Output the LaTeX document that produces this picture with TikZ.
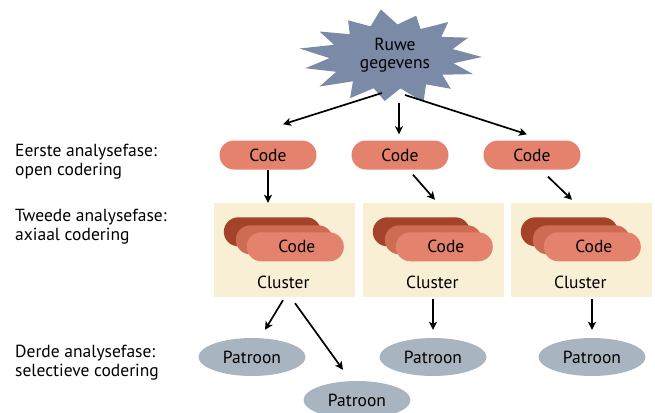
\documentclass[tikz,border=0pt]{standalone}
\usepackage{fontspec}
\setmainfont{PT Sans}
\usetikzlibrary{arrows.meta,calc,shapes.geometric}
\definecolor{burstcol}{HTML}{7B8AA6}
\definecolor{codecol}{HTML}{E4826D}
\definecolor{midcol}{HTML}{CE6C53}
\definecolor{backcol}{HTML}{A4432A}
\definecolor{boxcol}{HTML}{F8EFD5}
\definecolor{patcol}{HTML}{A9B4C1}
\tikzset{
  txt/.style={font=\fontsize{17.5}{19}\selectfont},
  pill/.style={rectangle,rounded corners=14.5pt,minimum width=97pt,minimum height=29pt,inner sep=0pt,txt},
  codepill/.style={pill,fill=codecol},
  midpill/.style={pill,fill=midcol},
  backpill/.style={pill,fill=backcol},
  clbox/.style={rectangle,fill=boxcol,minimum width=141pt,minimum height=94pt,inner sep=0pt},
  lbl/.style={txt},
  phase/.style={align=left,anchor=west,inner sep=0pt,txt},
  pat/.style={ellipse,fill=patcol,minimum width=107pt,minimum height=38pt,inner sep=0pt,txt},
  arr/.style={line width=1.7pt,-{Stealth[length=8pt,width=8pt,inset=2pt]}}
}
\begin{document}
\begin{tikzpicture}[x=1pt,y=-1pt]
\useasboundingbox (0,0) rectangle (655,412);
% starburst
\coordinate (bc) at (392,57);
\fill[burstcol] ($(bc)+(90,0)$)
  \foreach \a/\f in {11/0.68,22/0.95,34/0.66,46/0.92,57/0.68,70/1.0,82/0.66,95/0.92,107/0.68,118/0.97,130/0.66,142/1.0,153/0.68,166/0.97,178/0.68,190/1.02,202/0.68,214/0.95,226/0.66,238/0.9,250/0.68,263/1.0,275/0.68,287/0.9,298/0.66,310/0.95,322/0.68,334/0.92,346/0.68}
  { -- ($(bc)+({\f*92*cos(\a)},{\f*48*sin(\a)})$) } -- cycle;
\node[lbl,align=center,inner sep=0pt,font=\fontsize{17.5}{17.5}\selectfont] (burst) at (395,55) {Ruwe\\gegevens};
% code nodes
\node[codepill] (code1) at (268,155) {Code};
\node[codepill] (code2) at (400,155) {Code};
\node[codepill] (code3) at (532,155) {Code};
% cluster boxes
\foreach \i/\x in {1/284,2/433,3/581}{
  \node[clbox] (cl\i) at (\x,250) {};
  \node[backpill] (b\i) at ($(cl\i.north west)+(59,29)$) {};
  \node[midpill] (m\i) at ($(cl\i.north west)+(71,37)$) {};
  \node[codepill] (f\i) at ($(cl\i.north west)+(82,44)$) {\hspace*{3pt}Code};
  \node[lbl] (cll\i) at ($(cl\i.north west)+(70,80)$) {Cluster};
}
% patroon
\node[pat] (p1) at (252,357) {Patroon};
\node[pat] (p2) at (357,400) {Patroon};
\node[pat] (p3) at (433,357) {Patroon};
\node[pat] (p4) at (592,357) {Patroon};
% phase labels
\node[phase] (ph1) at (15,162) {Eerste analysefase:\\open codering};
\node[phase] (ph2) at (15,227) {Tweede analysefase:\\axiaal codering};
\node[phase] (ph3) at (15,363) {Derde analysefase:\\selectieve codering};
% arrows
\draw[arr] ($(bc)+(-10,36)$) -- ($(code1.north)+(15,-16)$);
\draw[arr] ($(bc)+(7,46)$) -- ($(code2.north)+(-1,-6)$);
\draw[arr] ($(bc)+(13,38)$) -- ($(code3.north)+(-5,-6)$);
\draw[arr] (code1.south) -- (code1.south |- cl1.north);
\draw[arr] ($(code2.south)+(13,5)$) -- ($(cl2.north)+(2,-3)$);
\draw[arr] ($(code3.south)+(16,7)$) -- ($(cl3.north)+(-9,-3)$);
\draw[arr] ($(cl1.south)+(-1,3)$) -- ($(p1.north)+(13,-8)$);
\draw[arr] ($(cl1.south)+(11,6)$) -- ($(p2.north)+(-14,-11)$);
\draw[arr] ($(cl2.south)+(0,2)$) -- ($(p3.north)+(0,-8)$);
\draw[arr] ($(cl3.south)+(11,2)$) -- ($(p4.north)+(0,-8)$);
\end{tikzpicture}
\end{document}
